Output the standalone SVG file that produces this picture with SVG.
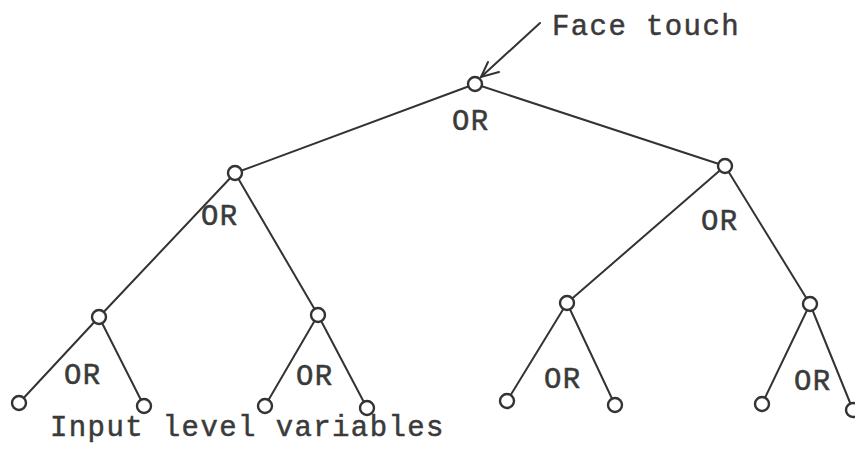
<svg xmlns="http://www.w3.org/2000/svg" width="855" height="457" viewBox="0 0 855 457">
<style>
.e{stroke:#333;stroke-width:2;fill:none;stroke-linecap:round}
.n{fill:#fff;stroke:#333;stroke-width:2.4}
.t{font-family:"Liberation Mono","Courier New",monospace;font-size:29px;letter-spacing:1.4px;fill:#3a3a3a;stroke:#3a3a3a;stroke-width:0.5}
</style>
<rect width="855" height="457" fill="#fff"/>
<g id="connectors">
<line class="e" x1="475" y1="84" x2="235" y2="173"/>
<line class="e" x1="475" y1="84" x2="725" y2="166"/>
<line class="e" x1="235" y1="173" x2="99" y2="317"/>
<line class="e" x1="235" y1="173" x2="318" y2="315"/>
<line class="e" x1="725" y1="166" x2="567" y2="303"/>
<line class="e" x1="725" y1="166" x2="810" y2="304"/>
<line class="e" x1="99" y1="317" x2="19" y2="403"/>
<line class="e" x1="99" y1="317" x2="144" y2="406"/>
<line class="e" x1="318" y1="315" x2="265" y2="406"/>
<line class="e" x1="318" y1="315" x2="367" y2="408"/>
<line class="e" x1="567" y1="303" x2="507" y2="401"/>
<line class="e" x1="567" y1="303" x2="615" y2="405"/>
<line class="e" x1="810" y1="304" x2="762" y2="404"/>
<line class="e" x1="810" y1="304" x2="853" y2="410"/>
<g id="arrow">
<line class="e" x1="540" y1="23" x2="481" y2="77"/>
<polyline class="e" points="488,62 481,77 499,72"/>
</g>
</g>
<g id="root"><circle class="n" cx="475" cy="84" r="7"/><text class="t" x="452" y="130">OR</text></g>
<g id="n1"><circle class="n" cx="235" cy="173" r="7"/><text class="t" x="201" y="225">OR</text></g>
<g id="n2"><circle class="n" cx="725" cy="166" r="7"/><text class="t" x="701" y="230">OR</text></g>
<g id="n3"><circle class="n" cx="99" cy="317" r="7"/><text class="t" x="64" y="384">OR</text></g>
<g id="n4"><circle class="n" cx="318" cy="315" r="7"/><text class="t" x="296" y="385">OR</text></g>
<g id="n5"><circle class="n" cx="567" cy="303" r="7"/><text class="t" x="544" y="388">OR</text></g>
<g id="n6"><circle class="n" cx="810" cy="304" r="7"/><text class="t" x="794" y="390">OR</text></g>
<g id="l1"><circle class="n" cx="19" cy="403" r="7"/></g>
<g id="l2"><circle class="n" cx="144" cy="406" r="7"/></g>
<g id="l3"><circle class="n" cx="265" cy="406" r="7"/></g>
<g id="l4"><circle class="n" cx="367" cy="408" r="7"/></g>
<g id="l5"><circle class="n" cx="507" cy="401" r="7"/></g>
<g id="l6"><circle class="n" cx="615" cy="405" r="7"/></g>
<g id="l7"><circle class="n" cx="762" cy="404" r="7"/></g>
<g id="l8"><circle class="n" cx="853" cy="410" r="7"/></g>
<g id="face"><text class="t" x="552" y="35">Face touch</text></g>
<g id="input"><text class="t" x="50" y="436">Input level variables</text></g>
</svg>
